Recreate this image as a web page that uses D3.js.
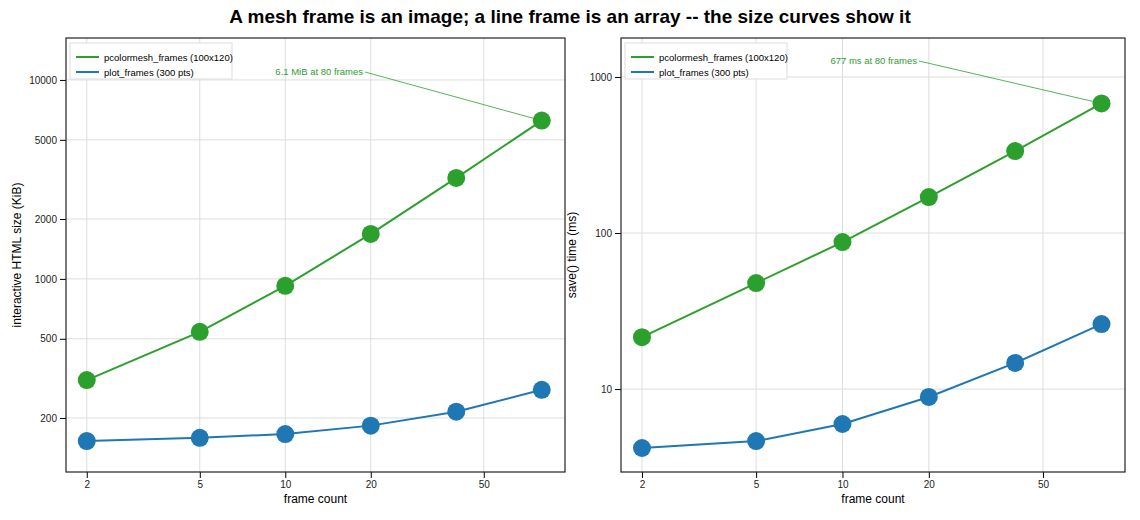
<html>
<head>
<meta charset="utf-8">
<script src="https://d3js.org/d3.v7.min.js"></script>
<style>body{margin:0;background:#fff;font-family:"Liberation Sans",Arial,sans-serif}</style>
</head>
<body>
<script>
var frames = [2, 5, 10, 20, 40, 80]
var sizeMesh = [310, 542, 923, 1683, 3218, 6246]
var sizeLine = [153, 159, 166, 183, 215, 277]
var timeMesh = [21.5, 47.8, 87.5, 170, 335, 677]
var timeLine = [4.19, 4.64, 5.97, 8.9, 14.7, 26.1]
var xTicks = [2, 5, 10, 20, 50]
var sizeTicks = [200, 500, 1000, 2000, 5000, 10000]
var timeTicks = [10, 100, 1000]
var green = "#2ca02c", blue = "#1f77b4"

var svg = d3.select("body").append("svg").attr("width", 1140).attr("height", 520)
svg.append("text").attr("x", 570).attr("y", 23).attr("text-anchor", "middle")
  .attr("font-size", 19).attr("font-weight", "bold")
  .text("A mesh frame is an image; a line frame is an array -- the size curves show it")

function panel(x0, x1, yDomain, yTicks, mesh, line, ylabel, note, noteX, noteY) {
  var top = 38, bottom = 472
  var x = d3.scaleLog().domain([1.69, 96.6]).range([x0, x1])
  var y = d3.scaleLog().domain(yDomain).range([bottom, top])
  var g = svg.append("g")
  g.selectAll(".vg").data(xTicks).enter().append("line")
    .attr("x1", d => x(d)).attr("x2", d => x(d)).attr("y1", top).attr("y2", bottom)
    .attr("stroke", "#ddd")
  g.selectAll(".hg").data(yTicks).enter().append("line")
    .attr("y1", d => y(d)).attr("y2", d => y(d)).attr("x1", x0).attr("x2", x1)
    .attr("stroke", "#ddd")
  var xa = g.append("g").attr("transform", "translate(0," + bottom + ")")
    .call(d3.axisBottom(x).tickValues(xTicks).tickFormat(d3.format("d")).tickSizeOuter(0))
  var ya = g.append("g").attr("transform", "translate(" + x0 + ",0)")
    .call(d3.axisLeft(y).tickValues(yTicks).tickFormat(d3.format("d")).tickSizeOuter(0))
  ;[xa, ya].forEach(a => { a.selectAll("text").attr("font-size", 10).attr("fill", "#222"); a.select(".domain").remove() })
  g.append("rect").attr("x", x0).attr("y", top).attr("width", x1 - x0).attr("height", bottom - top)
    .attr("fill", "none").attr("stroke", "#222").attr("stroke-width", 1.2)
  g.append("text").attr("x", (x0 + x1) / 2).attr("y", 503).attr("text-anchor", "middle")
    .attr("font-size", 12).text("frame count")
  g.append("text").attr("transform", "translate(" + (x0 - 45) + "," + ((top + bottom) / 2) + ") rotate(-90)")
    .attr("text-anchor", "middle").attr("font-size", 12).text(ylabel)
  var ln = d3.line().x((d, i) => x(frames[i])).y(d => y(d))
  ;[[mesh, green], [line, blue]].forEach(s => {
    g.append("path").datum(s[0]).attr("d", ln).attr("fill", "none").attr("stroke", s[1]).attr("stroke-width", 2)
    g.selectAll(null).data(s[0]).enter().append("circle")
      .attr("cx", (d, i) => x(frames[i])).attr("cy", d => y(d)).attr("r", 9).attr("fill", s[1])
  })
  // annotation
  g.append("line").attr("x1", noteX + 2).attr("y1", noteY - 3).attr("x2", x(80)).attr("y2", y(mesh[5]))
    .attr("stroke", green).attr("stroke-width", 0.8)
  g.append("text").attr("x", noteX).attr("y", noteY).attr("text-anchor", "end")
    .attr("font-size", 9.5).attr("fill", green).text(note)
  // legend
  var lg = g.append("g").attr("transform", "translate(" + (x0 + 4) + "," + (top + 5) + ")")
  lg.append("rect").attr("width", 162).attr("height", 36).attr("fill", "#fff").attr("stroke", "#ddd")
  ;[["pcolormesh_frames (100x120)", green], ["plot_frames (300 pts)", blue]].forEach((l, i) => {
    lg.append("line").attr("x1", 6).attr("x2", 29).attr("y1", 14 + i * 15).attr("y2", 14 + i * 15)
      .attr("stroke", l[1]).attr("stroke-width", 2)
    lg.append("text").attr("x", 34).attr("y", 18 + i * 15).attr("font-size", 9.5).text(l[0])
  })
}

panel(66, 565, [107, 16250], sizeTicks, sizeMesh, sizeLine, "interactive HTML size (KiB)", "6.1 MiB at 80 frames", 363, 75)
panel(621, 1125, [2.94, 1778], timeTicks, timeMesh, timeLine, "save() time (ms)", "677 ms at 80 frames", 917, 64)
</script>
</body>
</html>
